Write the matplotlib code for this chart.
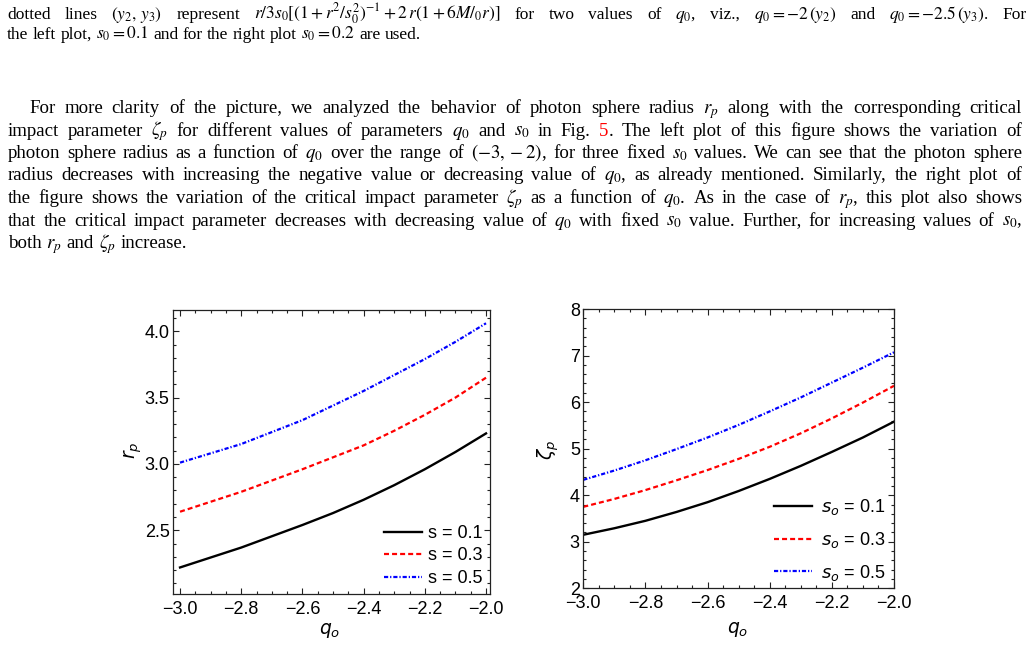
import matplotlib
matplotlib.use("Agg")
import matplotlib.pyplot as plt
from matplotlib.ticker import MultipleLocator, FuncFormatter
from matplotlib.transforms import IdentityTransform

W, H = 1031, 647

# ---- data ----
q0 = [-3.0, -2.9, -2.8, -2.7, -2.6, -2.5, -2.4, -2.3, -2.2, -2.1, -2.0]

rp_s01 = [2.22, 2.295, 2.37, 2.455, 2.54, 2.63, 2.73, 2.84, 2.96, 3.09, 3.23]
rp_s03 = [2.64, 2.715, 2.79, 2.875, 2.96, 3.05, 3.14, 3.25, 3.37, 3.50, 3.65]
rp_s05 = [3.01, 3.08, 3.15, 3.24, 3.33, 3.44, 3.55, 3.67, 3.79, 3.92, 4.06]

zp_s01 = [3.15, 3.29, 3.45, 3.64, 3.85, 4.09, 4.35, 4.63, 4.93, 5.24, 5.58]
zp_s03 = [3.75, 3.92, 4.11, 4.32, 4.54, 4.78, 5.04, 5.33, 5.65, 5.99, 6.35]
zp_s05 = [4.33, 4.53, 4.75, 4.99, 5.24, 5.51, 5.80, 6.10, 6.42, 6.74, 7.07]

labels_left = ["s = 0.1", "s = 0.3", "s = 0.5"]
labels_right = ["$s_o$ = 0.1", "$s_o$ = 0.3", "$s_o$ = 0.5"]

caption = [
    r"dotted lines $(y_2,\,y_3)$ represent $r/3s_0[(1+r^2/s_0^2)^{-1}+2\,r(1+6M/_0r)]$ for two values of $q_0$, viz., $q_0=-2\,(y_2)$ and $q_0=-2.5\,(y_3)$. For",
    r"the left plot, $s_0=0.1$ and for the right plot $s_0=0.2$ are used.",
]
paragraph = [
    r"For more clarity of the picture, we analyzed the behavior of photon sphere radius $r_p$ along with the corresponding critical",
    r"impact parameter $\zeta_p$ for different values of parameters $q_0$ and $s_0$ in Fig. §5§. The left plot of this figure shows the variation of",
    r"photon sphere radius as a function of $q_0$ over the range of $(-3,-2)$, for three fixed $s_0$ values. We can see that the photon sphere",
    r"radius decreases with increasing the negative value or decreasing value of $q_0$, as already mentioned. Similarly, the right plot of",
    r"the figure shows the variation of the critical impact parameter $\zeta_p$ as a function of $q_0$. As in the case of $r_p$, this plot also shows",
    r"that the critical impact parameter decreases with decreasing value of $q_0$ with fixed $s_0$ value. Further, for increasing values of $s_0$,",
    r"both $r_p$ and $\zeta_p$ increase.",
]

plt.rcParams['font.family'] = 'Liberation Sans'
plt.rcParams['mathtext.fontset'] = 'dejavusans'
plt.rcParams['lines.scale_dashes'] = False

fig = plt.figure(figsize=(W / 100, H / 100), dpi=100)
renderer = fig.canvas.get_renderer()


def split_words(s):
    words, cur, inmath = [], '', False
    for ch in s:
        if ch == '$':
            inmath = not inmath
        if ch == ' ' and not inmath:
            if cur:
                words.append(cur)
            cur = ''
        else:
            cur += ch
    if cur:
        words.append(cur)
    return words


def text_line(s, x0, x1, ybase, size, justify=True):
    # place each word by hand so the line is justified like the page
    words = split_words(s)
    groups, widths = [], []
    for w in words:
        segs = w.split('§')
        ts, wd = [], 0
        for i, seg in enumerate(segs):
            if not seg:
                continue
            t = fig.text(0, H - ybase, seg, transform=IdentityTransform(),
                         fontsize=size, family='Liberation Serif',
                         math_fontfamily='stix', va='baseline',
                         color='red' if i % 2 == 1 else 'black')
            sw = t.get_window_extent(renderer).width
            ts.append((t, sw))
            wd += sw
        groups.append(ts)
        widths.append(wd)
    if justify and len(words) > 1:
        gap = (x1 - x0 - sum(widths)) / (len(words) - 1)
    else:
        gap = 0.25 * size * 100 / 72
    x = x0
    for ts in groups:
        for t, sw in ts:
            t.set_x(x)
            x += sw
        x += gap


for i, s in enumerate(caption):
    text_line(s, 7, 1027, 19 + i * 20, 12.5, justify=(i == 0))

for i, s in enumerate(paragraph):
    x0 = 29 if i == 0 else 8
    text_line(s, x0, 1022, 113 + i * 22.5, 13.6, justify=(i < len(paragraph) - 1))


def fmt1(v, pos):
    return f"{v:.1f}".replace('-', '\u2212')


def fmt0(v, pos):
    return f"{v:.0f}".replace('-', '\u2212')


def style(ax):
    for sp in ax.spines.values():
        sp.set_linewidth(0.9)
        sp.set_color('#222222')
    ax.tick_params(which='both', direction='in', top=True, right=True,
                   color='#222222', width=0.8, labelsize=13)
    ax.tick_params(which='major', length=4, pad=5)
    ax.tick_params(which='minor', length=2.3)
    ax.tick_params(axis='y', pad=2.5)
    ax.xaxis.set_major_locator(MultipleLocator(0.2))
    ax.xaxis.set_minor_locator(MultipleLocator(0.05))
    ax.xaxis.set_major_formatter(FuncFormatter(fmt1))


ax1 = fig.add_axes([173 / W, 1 - 594 / H, 317 / W, 284 / H])
ax1.plot(q0, rp_s01, color='black', lw=1.7, label=labels_left[0])
ax1.plot(q0, rp_s03, color='red', lw=1.6, dashes=(3.6, 2.2), label=labels_left[1])
ax1.plot(q0, rp_s05, color='blue', lw=1.6, dashes=(3.0, 1.4, 0.9, 1.4), label=labels_left[2])
ax1.set_xlim(-3.023, -1.987)
ax1.set_ylim(2.02, 4.16)
style(ax1)
ax1.yaxis.set_major_locator(MultipleLocator(0.5))
ax1.yaxis.set_minor_locator(MultipleLocator(0.1))
ax1.yaxis.set_major_formatter(FuncFormatter(fmt1))
ax1.legend(loc='lower right', bbox_to_anchor=(0.975, 0.025), frameon=False,
           fontsize=13, handlelength=2.1, handletextpad=0.3,
           labelspacing=0.3, borderpad=0, borderaxespad=0)
ax1.text(-0.125, 0.507, '$r_p$', transform=ax1.transAxes, rotation=90,
         ha='center', va='center', fontsize=13.5)
ax1.text(0.495, -0.127, '$q_o$', transform=ax1.transAxes,
         ha='center', va='center', fontsize=13.5)

ax2 = fig.add_axes([583.3 / W, 1 - 588.3 / H, 310.7 / W, 279.3 / H])
ax2.plot(q0, zp_s01, color='black', lw=1.7, label=labels_right[0])
ax2.plot(q0, zp_s03, color='red', lw=1.6, dashes=(3.6, 2.2), label=labels_right[1])
ax2.plot(q0, zp_s05, color='blue', lw=1.6, dashes=(3.0, 1.4, 0.9, 1.4), label=labels_right[2])
ax2.set_xlim(-3.0, -2.0)
ax2.set_ylim(2, 8)
style(ax2)
ax2.yaxis.set_major_locator(MultipleLocator(1))
ax2.yaxis.set_minor_locator(MultipleLocator(0.2))
ax2.yaxis.set_major_formatter(FuncFormatter(fmt0))
ax2.legend(loc='lower right', bbox_to_anchor=(0.971, 0.02), frameon=False,
           fontsize=13, handlelength=2.1, handletextpad=0.5,
           labelspacing=0.7, borderpad=0, borderaxespad=0)
ax2.text(-0.114, 0.495, r'$\zeta_p$', transform=ax2.transAxes, rotation=90,
         ha='center', va='center', fontsize=13.5)
ax2.text(0.498, -0.149, '$q_o$', transform=ax2.transAxes,
         ha='center', va='center', fontsize=13.5)

fig.savefig('out.png', dpi=100)
